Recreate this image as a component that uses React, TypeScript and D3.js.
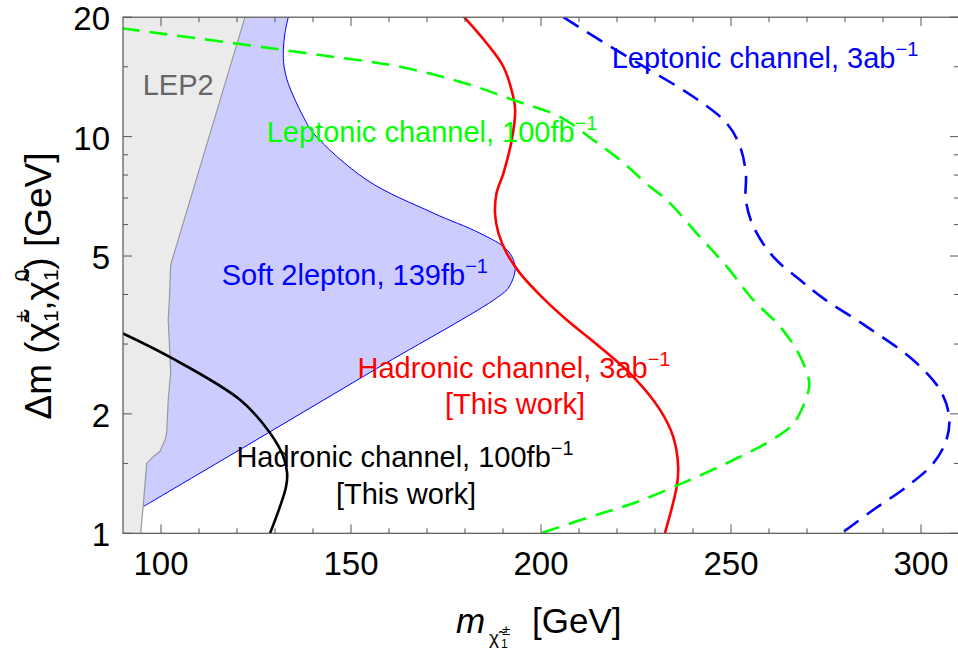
import * as d3 from "d3";

type Pt = [number, number];

// [chargino mass (GeV), delta m (GeV)]
const lep2Edge: Pt[] = [
  [122.1, 20], [102.55, 4.75], [102.2, 3.88], [101.9, 3.45], [102.2, 3.02],
  [102.55, 2.54], [101.9, 2.17], [101.5, 1.79], [101.05, 1.72], [99.74, 1.61],
  [97.97, 1.56], [96.24, 1.5], [95.3, 1.167], [94.66, 1.0],
];

const soft2lEdge: Pt[] = [
  [133.5, 20], [132.6, 18.2], [132.2, 16.5], [132.4, 15.0], [133.5, 13.6],
  [135.3, 12.37], [137.4, 11.25], [140.1, 10.2], [154.2, 7.77], [171.6, 6.42],
  [183.9, 5.71], [191.1, 5.18], [193.2, 4.69], [191.6, 4.18], [188.5, 3.93],
  [156.7, 2.6], [126.0, 1.74], [95.3, 1.167],
];

const hadronic100: Pt[] = [
  [89.7, 3.2], [102.4, 2.78], [120.8, 2.17], [128.7, 1.79], [132.2, 1.56],
  [133.2, 1.416], [132.9, 1.31], [131.3, 1.167], [128.7, 1.0],
];

const hadronic3ab: Pt[] = [
  [179.6, 20.1], [185.7, 17.2], [190.1, 15.0], [192.7, 12.6], [193.2, 11.67],
  [192.3, 9.8], [190.1, 8.08], [188.3, 7.2], [187.9, 6.41], [188.8, 5.71],
  [191.0, 5.08], [194.5, 4.52], [200.6, 3.91], [206.8, 3.45], [215.5, 2.95],
  [224.3, 2.48], [231.3, 2.05], [234.8, 1.75], [236.1, 1.47], [235.7, 1.31],
  [232.6, 1.0],
];

const leptonic100: Pt[] = [
  [89.7, 18.75], [141.8, 16.06], [162.9, 15.0], [180.4, 13.6], [192.7, 12.37],
  [205.0, 11.22], [213.8, 9.8], [220.8, 8.73], [228.7, 7.48], [233.1, 6.92],
  [241.8, 5.59], [248.9, 4.7], [255.9, 3.87], [262.9, 3.32], [268.2, 2.79],
  [270.6, 2.39], [269.9, 2.21], [266.4, 1.89], [259.4, 1.69], [250.6, 1.53],
  [237.4, 1.34], [224.3, 1.19], [215.5, 1.12], [199.9, 1.0],
];

const leptonic3ab: Pt[] = [
  [205.9, 20], [215.5, 17.5], [228.7, 14.7], [240.1, 12.6], [248.9, 10.8],
  [252.4, 9.43], [253.9, 8.08], [253.9, 6.92], [255.9, 5.93], [261.1, 4.98],
  [268.2, 4.35], [274.3, 3.91], [285.7, 3.32], [298.0, 2.73], [305.0, 2.3],
  [307.4, 1.97], [306.7, 1.72], [303.2, 1.5], [296.2, 1.31], [287.4, 1.145],
  [279.1, 1.0],
];

const xMajorTicks = [100, 150, 200, 250, 300];
const xMinorTicks = [110, 120, 130, 140, 160, 170, 180, 190, 210, 220, 230, 240, 260, 270, 280, 290];
const yMajorTicks = [1, 2, 5, 10, 20];
const yMinorTicks = [1.5, 3, 4, 6, 7, 8, 9, 15];

const FONT = "'Liberation Sans', Arial, Helvetica, sans-serif";

export default function App() {
  const x = d3.scaleLinear().domain([90, 310]).range([123, 959]);
  const y = d3.scaleLog().domain([1, 20]).range([533.3, 17.2]);
  const [x0, x1] = x.range();
  const [y0, y1] = y.range();

  const smooth = d3.line<Pt>().x(d => x(d[0])).y(d => y(d[1])).curve(d3.curveCatmullRom.alpha(0.5));
  const straight = d3.line<Pt>().x(d => x(d[0])).y(d => y(d[1]));

  const lepFill = straight([[90, 20], ...lep2Edge, [90, 1]]) + "Z";
  const lepLeft = [...lep2Edge].reverse().filter(d => d[1] > 1.17);
  const softFill = smooth(soft2lEdge) + (straight(lepLeft) || "").replace("M", "L") + "Z";

  const frame = "#555";
  const sup = (t: string) => (
    <tspan fontSize={20} dy={-12}>{t}</tspan>
  );

  return (
    <svg width={958} height={653} style={{ position: "absolute", left: 0, top: 0 }} fontFamily={FONT}>
      <defs>
        <clipPath id="plot">
          <rect x={x0} y={y1} width={x1 - x0} height={y0 - y1} />
        </clipPath>
      </defs>
      <rect width={958} height={653} fill="white" />
      <g clipPath="url(#plot)">
        <path d={lepFill} fill="#ebebeb" />
        <path d={softFill} fill="#ccccff" />
        <path d={smooth(soft2lEdge) || ""} fill="none" stroke="#0000ff" strokeWidth={1} />
        <path d={straight(lep2Edge) || ""} fill="none" stroke="#999" strokeWidth={1.2} />
        <path d={smooth(hadronic100) || ""} fill="none" stroke="#000" strokeWidth={2.6} />
        <path d={smooth(hadronic3ab) || ""} fill="none" stroke="#ff0000" strokeWidth={2.6} />
        <path d={smooth(leptonic100) || ""} fill="none" stroke="#00ff00" strokeWidth={2.6} strokeDasharray="18,10" />
        <path d={smooth(leptonic3ab) || ""} fill="none" stroke="#0000ff" strokeWidth={2.6} strokeDasharray="18,10" />
      </g>

      <g fontSize={29}>
        <text x={142.7} y={95} fill="#666">LEP2</text>
        <text x={266.7} y={142} fill="#00ff00">Leptonic channel, 100fb{sup("\u22121")}</text>
        <text x={221.7} y={285} fill="#0000ff">Soft 2lepton, 139fb{sup("\u22121")}</text>
        <text x={611.7} y={68} fill="#0000ff">Leptonic channel, 3ab{sup("\u22121")}</text>
        <text x={514} y={378} fill="#ff0000" textAnchor="middle">Hadronic channel, 3ab{sup("\u22121")}</text>
        <text x={515} y={414} fill="#ff0000" textAnchor="middle">[This work]</text>
        <text x={405} y={467} fill="#000" textAnchor="middle">Hadronic channel, 100fb{sup("\u22121")}</text>
        <text x={406} y={504} fill="#000" textAnchor="middle">[This work]</text>
      </g>

      <rect x={x0} y={y1} width={x1 - x0} height={y0 - y1} fill="none" stroke={frame} strokeWidth={1.2} />
      <g stroke={frame} strokeWidth={1}>
        {xMajorTicks.concat(xMinorTicks).map(v => {
          const len = xMajorTicks.includes(v) ? 9 : 5;
          return (
            <g key={"x" + v}>
              <line x1={x(v)} x2={x(v)} y1={y0} y2={y0 - len} />
              <line x1={x(v)} x2={x(v)} y1={y1} y2={y1 + len} />
            </g>
          );
        })}
        {yMajorTicks.concat(yMinorTicks).map(v => {
          const len = yMajorTicks.includes(v) ? 9 : 5;
          return (
            <g key={"y" + v}>
              <line x1={x0} x2={x0 + len} y1={y(v)} y2={y(v)} />
              <line x1={x1} x2={x1 - len} y1={y(v)} y2={y(v)} />
            </g>
          );
        })}
      </g>
      <g fontSize={33} fill="#000">
        {xMajorTicks.map(v => (
          <text key={"xl" + v} x={x(v)} y={575} textAnchor="middle">{v}</text>
        ))}
        {yMajorTicks.map(v => (
          <text key={"yl" + v} x={110} y={y(v) + 13} textAnchor="end">{v}</text>
        ))}
      </g>

      <g fill="#000">
        <text x={456} y={633} fontSize={35} fontStyle="italic">m</text>
        <text x={489} y={644} fontSize={19}>{"\u03c7\u0303"}</text>
        <text x={502} y={635} fontSize={15}>±</text>
        <text x={501} y={648} fontSize={12}>1</text>
        <text x={532} y={633} fontSize={35}>[GeV]</text>
      </g>

      <text transform="translate(51,286) rotate(-90)" textAnchor="middle" fontSize={37} fill="#000">
        Δm ({"\u03c7\u0303"}
        <tspan fontSize={21} dy={7}>1</tspan>
        <tspan fontSize={21} dx={-12} dy={-29}>±</tspan>
        <tspan dy={22}>,{"\u03c7\u0303"}</tspan>
        <tspan fontSize={21} dy={7}>1</tspan>
        <tspan fontSize={21} dx={-12} dy={-29}>0</tspan>
        <tspan dy={22}>) [GeV]</tspan>
      </text>
    </svg>
  );
}
